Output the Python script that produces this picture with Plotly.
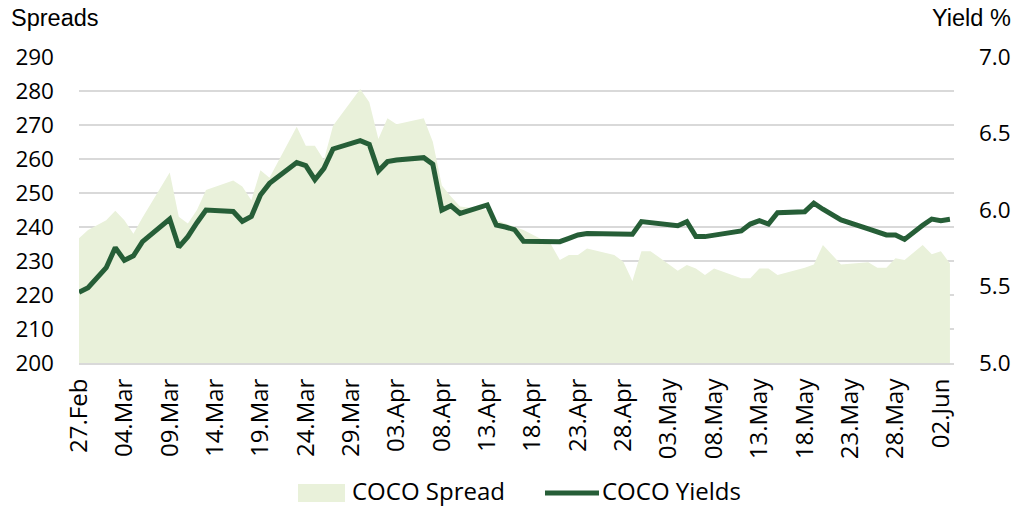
import datetime as dt
import plotly.graph_objects as go

# ---------------- data ----------------
DATES = [
    "2015-02-27", "2015-02-28", "2015-03-02", "2015-03-03", "2015-03-04", "2015-03-05", "2015-03-06",
    "2015-03-09", "2015-03-10", "2015-03-11", "2015-03-12", "2015-03-13",
    "2015-03-16", "2015-03-17", "2015-03-18", "2015-03-19", "2015-03-20",
    "2015-03-23", "2015-03-24", "2015-03-25", "2015-03-26", "2015-03-27",
    "2015-03-30", "2015-03-31", "2015-04-01", "2015-04-02", "2015-04-03",
    "2015-04-06", "2015-04-07", "2015-04-08", "2015-04-09", "2015-04-10",
    "2015-04-13", "2015-04-14", "2015-04-15", "2015-04-16", "2015-04-17",
    "2015-04-20", "2015-04-21", "2015-04-22", "2015-04-23", "2015-04-24",
    "2015-04-27", "2015-04-28", "2015-04-29", "2015-04-30", "2015-05-01",
    "2015-05-04", "2015-05-05", "2015-05-06", "2015-05-07", "2015-05-08",
    "2015-05-11", "2015-05-12", "2015-05-13", "2015-05-14", "2015-05-15",
    "2015-05-18", "2015-05-19", "2015-05-20", "2015-05-22",
    "2015-05-25", "2015-05-26", "2015-05-27", "2015-05-28", "2015-05-29",
    "2015-05-31", "2015-06-01", "2015-06-02", "2015-06-03",
]

COCO_SPREAD = [
    236.7, 239.1, 242.0, 244.8, 242.0, 238.0, 242.8,
    256.0, 243.0, 241.0, 245.0, 250.9,
    253.7, 251.9, 247.9, 256.7, 254.5,
    269.5, 263.9, 263.9, 259.7, 269.8,
    280.6, 276.7, 265.9, 272.0, 270.2,
    272.0, 265.1, 252.2, 249.0, 246.0,
    245.0, 242.0, 241.0, 240.0, 239.1,
    235.0, 230.3, 231.8, 231.8, 233.7,
    231.8, 229.8, 224.1, 232.9, 232.9,
    227.1, 228.8, 227.8, 225.9, 227.8,
    224.9, 224.9, 227.8, 227.8, 225.9,
    228.0, 229.0, 234.7, 229.0,
    229.6, 228.0, 228.0, 230.8, 230.3,
    234.7, 232.0, 232.9, 229.3,
]

COCO_YIELDS = [
    5.462, 5.492, 5.623, 5.754, 5.671, 5.701, 5.793,
    5.941, 5.758, 5.826, 5.917, 6.000,
    5.990, 5.926, 5.958, 6.098, 6.174,
    6.310, 6.290, 6.198, 6.272, 6.399,
    6.453, 6.429, 6.255, 6.316, 6.327,
    6.342, 6.299, 6.000, 6.028, 5.978,
    6.033, 5.902, 5.889, 5.872, 5.795,
    5.793, 5.793, 5.815, 5.837, 5.847,
    5.845, 5.843, 5.841, 5.924, 5.917,
    5.897, 5.924, 5.826, 5.826, 5.837,
    5.863, 5.908, 5.930, 5.908, 5.982,
    5.989, 6.044, 6.005, 5.935,
    5.876, 5.858, 5.837, 5.837, 5.808,
    5.900, 5.941, 5.930, 5.939,
]

TICK_DATES = [
    "2015-02-27", "2015-03-04", "2015-03-09", "2015-03-14", "2015-03-19", "2015-03-24",
    "2015-03-29", "2015-04-03", "2015-04-08", "2015-04-13", "2015-04-18", "2015-04-23",
    "2015-04-28", "2015-05-03", "2015-05-08", "2015-05-13", "2015-05-18", "2015-05-23",
    "2015-05-28", "2015-06-02",
]
TICK_TEXT = [
    "27.Feb", "04.Mar", "09.Mar", "14.Mar", "19.Mar", "24.Mar", "29.Mar", "03.Apr",
    "08.Apr", "13.Apr", "18.Apr", "23.Apr", "28.Apr", "03.May", "08.May", "13.May",
    "18.May", "23.May", "28.May", "02.Jun",
]

SERIES_NAMES = ["COCO Spread", "COCO Yields"]

# ---------------- style ----------------
W, H = 1017, 507
L, R, T, B = 79, 63, 57, 144
PW, PH = W - L - R, H - T - B
AREA_COLOR = "#E9F1DA"
LINE_COLOR = "#265E37"
GRID_COLOR = "#D9D9D9"
YTICK_FONT = dict(family="Open Sans", size=22.5, color="#000000")
XTICK_FONT = dict(family="Open Sans", size=24, color="#000000")
LEG_FONT = dict(family="Open Sans", size=24, color="#000000")
TITLE_FONT = dict(family="Liberation Sans, Arial", size=23.5, color="#000000")


def px_x(px):
    return (px - L) / PW


def px_y(py):
    return (H - B - py) / PH


x_start = dt.datetime(2015, 2, 27)
x_end = x_start + dt.timedelta(days=96.45)

fig = go.Figure()
fig.add_trace(go.Scatter(
    x=DATES, y=COCO_SPREAD, name=SERIES_NAMES[0], mode="lines",
    fill="tozeroy", fillcolor=AREA_COLOR, line=dict(width=0, color=AREA_COLOR),
    showlegend=False, yaxis="y", hoverinfo="skip",
))
fig.add_trace(go.Scatter(
    x=DATES, y=COCO_YIELDS, name=SERIES_NAMES[1], mode="lines",
    line=dict(width=5, color=LINE_COLOR), showlegend=False, yaxis="y2", hoverinfo="skip",
))

fig.update_layout(
    width=W, height=H, autosize=False,
    margin=dict(l=L, r=R, t=T, b=B, pad=0, autoexpand=False),
    paper_bgcolor="white", plot_bgcolor="white",
    xaxis=dict(
        type="date", range=[x_start, x_end], automargin=False,
        tickmode="array", tickvals=TICK_DATES, ticktext=TICK_TEXT,
        tickangle=-90, tickfont=XTICK_FONT, ticklabelstandoff=4,
        showgrid=False, zeroline=False,
        showline=True, linecolor=GRID_COLOR, linewidth=2, ticks="",
    ),
    yaxis=dict(
        range=[200, 290], dtick=10, tick0=200, tickfont=YTICK_FONT, automargin=False,
        showgrid=True, gridcolor=GRID_COLOR, gridwidth=1.6,
        zeroline=False, ticks="", ticklabelstandoff=24,
    ),
    yaxis2=dict(
        range=[5.0, 7.0], dtick=0.5, tick0=5.0, tickformat=".1f", automargin=False,
        overlaying="y", side="right", tickfont=YTICK_FONT,
        showgrid=False, zeroline=False, ticks="", ticklabelstandoff=24,
    ),
    showlegend=False,
    hovermode=False,
)

# axis titles
fig.add_annotation(text="Spreads", xref="paper", yref="paper", x=px_x(9), y=px_y(18),
                   xanchor="left", yanchor="middle", showarrow=False, font=TITLE_FONT)
fig.add_annotation(text="Yield %", xref="paper", yref="paper", x=px_x(1013), y=px_y(18),
                   xanchor="right", yanchor="middle", showarrow=False, font=TITLE_FONT)

# legend (drawn manually to match swatch sizes)
LEG_Y = 490
fig.add_shape(type="rect", xref="paper", yref="paper",
              x0=px_x(298), x1=px_x(345), y0=px_y(502), y1=px_y(484),
              fillcolor=AREA_COLOR, line=dict(width=0))
fig.add_annotation(text=SERIES_NAMES[0], xref="paper", yref="paper", x=px_x(351), y=px_y(LEG_Y),
                   xanchor="left", yanchor="middle", showarrow=False, font=LEG_FONT, borderpad=0)
fig.add_shape(type="line", xref="paper", yref="paper",
              x0=px_x(545), x1=px_x(599), y0=px_y(493), y1=px_y(493),
              line=dict(color=LINE_COLOR, width=5))
fig.add_annotation(text=SERIES_NAMES[1], xref="paper", yref="paper", x=px_x(601), y=px_y(LEG_Y),
                   xanchor="left", yanchor="middle", showarrow=False, font=LEG_FONT, borderpad=0)

fig.write_html("out.html", config={"displayModeBar": False, "responsive": False},
               post_script="document.body.style.margin='0px';")
